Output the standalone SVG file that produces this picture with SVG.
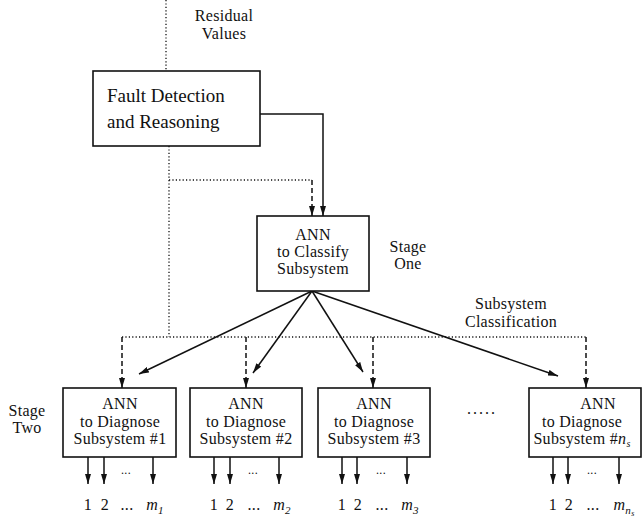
<svg xmlns="http://www.w3.org/2000/svg" width="642" height="518" viewBox="0 0 642 518">
  <style>
    text { font-family: "Liberation Serif", "Times New Roman", serif; fill: #111; }
    .lbl { font-size: 16px; letter-spacing: 0.3px; }
    .big { font-size: 19px; }
    .box { fill: #fff; stroke: #111; stroke-width: 1.6; }
    .solid { fill: none; stroke: #111; stroke-width: 1.5; }
    .dash { fill: none; stroke: #111; stroke-width: 1.5; stroke-dasharray: 5 3; }
    .dot { fill: none; stroke: #111; stroke-width: 1.3; stroke-dasharray: 1.2 2.2; }
    .it { font-style: italic; }
  </style>
  <defs>
    <marker id="ah" viewBox="0 0 10 6" refX="10" refY="3" markerWidth="10" markerHeight="6" orient="auto" markerUnits="userSpaceOnUse">
      <path d="M0,0 L10,3 L0,6 z" fill="#111"/>
    </marker>
  </defs>

  <!-- connectors -->
  <g id="connectors">
    <!-- residual values input -->
    <line class="dot" x1="166" y1="0" x2="166" y2="71"/>
    <!-- fault detection to stage one -->
    <polyline class="solid" points="260,114 323,114 323,216" marker-end="url(#ah)"/>
    <polyline class="dot" points="169,146 169,337"/>
    <line class="dot" x1="169" y1="180" x2="312" y2="180"/>
    <line class="dash" x1="312" y1="180" x2="312" y2="216" marker-end="url(#ah)"/>
    <!-- dotted bus to stage two -->
    <line class="dot" x1="122" y1="337" x2="586" y2="337"/>
    <line class="dash" x1="122" y1="337" x2="122" y2="388" marker-end="url(#ah)"/>
    <line class="dash" x1="246" y1="337" x2="246" y2="388" marker-end="url(#ah)"/>
    <line class="dash" x1="373" y1="337" x2="373" y2="388" marker-end="url(#ah)"/>
    <line class="dash" x1="586" y1="337" x2="586" y2="388" marker-end="url(#ah)"/>
    <!-- subsystem classification -->
    <line class="solid" x1="312" y1="291" x2="139" y2="374" marker-end="url(#ah)"/>
    <line class="solid" x1="312" y1="291" x2="253" y2="373" marker-end="url(#ah)"/>
    <line class="solid" x1="312" y1="291" x2="363" y2="372" marker-end="url(#ah)"/>
    <line class="solid" x1="312" y1="291" x2="558" y2="376" marker-end="url(#ah)"/>
    <!-- diagnosis outputs -->
    <g class="solid" marker-end="url(#ah)">
      <line x1="88" y1="457" x2="88" y2="484"/>
      <line x1="104" y1="457" x2="104" y2="484"/>
      <line x1="153" y1="457" x2="153" y2="484"/>
      <line x1="214" y1="457" x2="214" y2="484"/>
      <line x1="230" y1="457" x2="230" y2="484"/>
      <line x1="279" y1="457" x2="279" y2="484"/>
      <line x1="342" y1="457" x2="342" y2="484"/>
      <line x1="357" y1="457" x2="357" y2="484"/>
      <line x1="407" y1="457" x2="407" y2="484"/>
      <line x1="553" y1="457" x2="553" y2="484"/>
      <line x1="568" y1="457" x2="568" y2="484"/>
      <line x1="619" y1="457" x2="619" y2="484"/>
    </g>
  </g>

  <!-- free labels -->
  <g id="labels" class="lbl" text-anchor="middle">
    <text x="224" y="21">Residual</text>
    <text x="224" y="39">Values</text>
    <text x="408" y="252">Stage</text>
    <text x="408" y="269">One</text>
    <text x="511" y="309">Subsystem</text>
    <text x="511" y="327">Classification</text>
    <text x="27" y="416">Stage</text>
    <text x="27" y="433">Two</text>
    <text x="482" y="414" letter-spacing="2">.....</text>
  </g>

  <g id="fault-detection">
    <rect class="box" x="93" y="71" width="167" height="75"/>
    <text class="big" x="107" y="102">Fault Detection</text>
    <text class="big" x="107" y="128">and Reasoning</text>
  </g>

  <g id="classify" class="lbl" text-anchor="middle">
    <rect class="box" x="257" y="216" width="112" height="75"/>
    <text x="313" y="240">ANN</text>
    <text x="313" y="257">to Classify</text>
    <text x="313" y="274">Subsystem</text>
  </g>

  <g id="diagnose-1" class="lbl" text-anchor="middle">
    <rect class="box" x="63" y="388" width="113" height="69"/>
    <text x="120" y="409">ANN</text>
    <text x="120" y="427">to Diagnose</text>
    <text x="120" y="444">Subsystem #1</text>
    <text x="126" y="474" font-size="12">...</text>
    <text x="88" y="510">1</text>
    <text x="105" y="510">2</text>
    <text x="127" y="510">...</text>
    <text x="155" y="510"><tspan class="it">m</tspan><tspan class="it" font-size="11" dy="4">1</tspan></text>
  </g>

  <g id="diagnose-2" class="lbl" text-anchor="middle">
    <rect class="box" x="190" y="388" width="112" height="69"/>
    <text x="246" y="409">ANN</text>
    <text x="246" y="427">to Diagnose</text>
    <text x="246" y="444">Subsystem #2</text>
    <text x="253" y="474" font-size="12">...</text>
    <text x="214" y="510">1</text>
    <text x="230" y="510">2</text>
    <text x="254" y="510">...</text>
    <text x="282" y="510"><tspan class="it">m</tspan><tspan class="it" font-size="11" dy="4">2</tspan></text>
  </g>

  <g id="diagnose-3" class="lbl" text-anchor="middle">
    <rect class="box" x="318" y="388" width="112" height="69"/>
    <text x="374" y="409">ANN</text>
    <text x="374" y="427">to Diagnose</text>
    <text x="374" y="444">Subsystem #3</text>
    <text x="381" y="474" font-size="12">...</text>
    <text x="342" y="510">1</text>
    <text x="358" y="510">2</text>
    <text x="382" y="510">...</text>
    <text x="410" y="510"><tspan class="it">m</tspan><tspan class="it" font-size="11" dy="4">3</tspan></text>
  </g>

  <g id="diagnose-ns" class="lbl" text-anchor="middle">
    <rect class="box" x="529" y="388" width="112" height="69"/>
    <text x="598" y="409">ANN</text>
    <text x="582" y="427">to Diagnose</text>
    <text x="582" y="444">Subsystem #<tspan class="it">n</tspan><tspan class="it" font-size="10" dy="3">s</tspan></text>
    <text x="592" y="474" font-size="12">...</text>
    <text x="553" y="510">1</text>
    <text x="569" y="510">2</text>
    <text x="593" y="510">...</text>
    <text x="624" y="510"><tspan class="it">m</tspan><tspan class="it" font-size="11" dy="4">n</tspan><tspan class="it" font-size="8" dy="2">s</tspan></text>
  </g>
</svg>
